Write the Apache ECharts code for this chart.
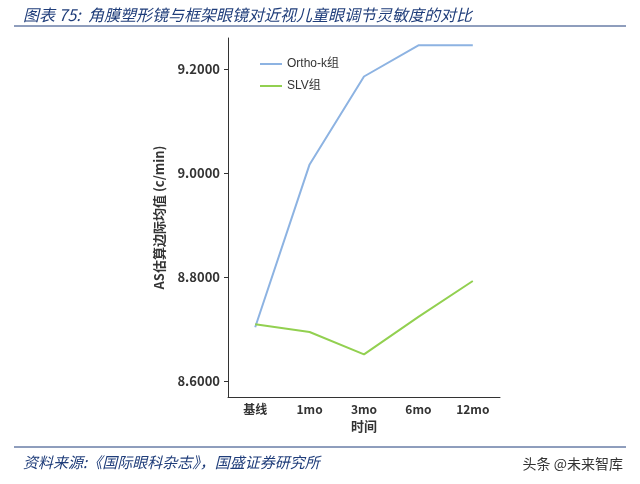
<!DOCTYPE html>
<html><head><meta charset="utf-8">
<script src="https://cdn.jsdelivr.net/npm/echarts@6/dist/echarts.min.js"></script>
<style>html,body{margin:0;padding:0;background:#fff}#c{width:640px;height:484px}</style>
</head><body><div id="c"></div>
<script>
const categories = ['基线','1mo','3mo','6mo','12mo'];
const orthoK = [8.704, 9.017, 9.186, 9.246, 9.246];
const slv = [8.710, 8.695, 8.652, 8.724, 8.793];
const yTicks = [8.6, 8.8, 9.0, 9.2];
const chart = echarts.init(document.getElementById('c'));
const cjk = '"Noto Sans CJK SC", sans-serif';
chart.setOption({
  animation:false,
  textStyle:{fontFamily:cjk},
  title:[
    {text:'图表 75:  角膜塑形镜与框架眼镜对近视儿童眼调节灵敏度的对比',left:18,top:2,
     textStyle:{fontSize:16,fontStyle:'italic',fontWeight:'normal',color:'#1f3d7a',fontFamily:cjk}},
    {text:'资料来源:《国际眼科杂志》，国盛证券研究所',left:18,top:450,
     textStyle:{fontSize:15,fontStyle:'italic',fontWeight:'normal',color:'#1f3d7a',fontFamily:cjk}},
    {text:'头条 @未来智库',right:12,top:452,
     textStyle:{fontSize:14,fontWeight:'normal',color:'#333',fontFamily:cjk}}
  ],
  graphic:[
    {type:'line',shape:{x1:14,y1:26,x2:626,y2:26},style:{stroke:'#1f3d7a',lineWidth:1}},
    {type:'line',shape:{x1:14,y1:447,x2:626,y2:447},style:{stroke:'#1f3d7a',lineWidth:1}}
  ],
  legend:{left:255,top:53,orient:'vertical',itemGap:10,itemWidth:22,itemHeight:2,icon:'rect',
    textStyle:{fontSize:12,color:'#333',fontFamily:'Arial, '+cjk},
    data:['Ortho-k组','SLV组']},
  grid:{left:228,right:140,top:38,bottom:87},
  xAxis:{type:'category',data:categories,boundaryGap:true,
    name:'时间',nameLocation:'middle',nameGap:22,
    nameTextStyle:{fontSize:13,fontWeight:'bold',color:'#333'},
    axisLine:{lineStyle:{color:'#333'}},axisTick:{show:false},
    axisLabel:{fontSize:12,fontWeight:'bold',color:'#333',margin:6}},
  yAxis:{type:'value',min:8.57,max:9.26,
    name:'AS估算边际均值 (c/min)',nameLocation:'middle',nameGap:62,
    nameTextStyle:{fontSize:13,fontWeight:'bold',color:'#333'},
    axisLine:{show:true,lineStyle:{color:'#333'}},
    axisTick:{show:true,customValues:yTicks,length:4,inside:false},
    splitLine:{show:false},
    axisLabel:{customValues:yTicks,fontSize:13,fontWeight:'bold',color:'#333',
      formatter:v=>v.toFixed(4)}},
  series:[
    {name:'Ortho-k组',type:'line',data:orthoK,symbol:'none',color:'#8db3e2',lineStyle:{width:2}},
    {name:'SLV组',type:'line',data:slv,symbol:'none',color:'#92d050',lineStyle:{width:2}}
  ]
});
</script></body></html>
